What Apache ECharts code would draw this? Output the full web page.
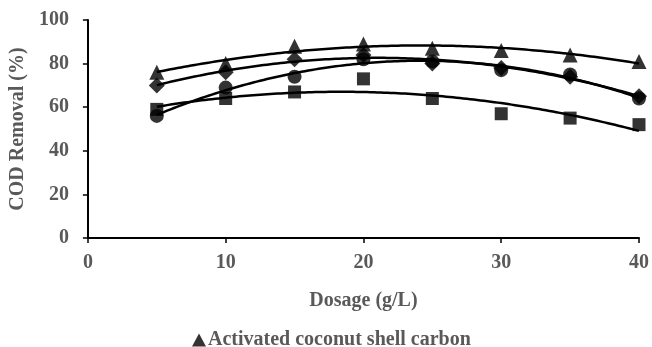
<!DOCTYPE html>
<html>
<head>
<meta charset="utf-8">
<script src="https://cdn.jsdelivr.net/npm/echarts@6/dist/echarts.min.js"></script>
<style>
  html, body { margin: 0; padding: 0; background: #fff; }
  #chart { width: 652px; height: 347px; }
</style>
</head>
<body>
<div id="chart"></div>
<script>
// dosage (g/L)
var dosage = [5, 10, 15, 20, 25, 30, 35, 40];
// COD removal (%)
var triangleVals = [76, 80, 88, 89, 87, 86, 84, 81];
var diamondVals  = [70, 76, 82, 84, 80, 78, 74, 65];
var circleVals   = [56, 69, 74, 82, 81, 77, 75, 64];
var squareVals   = [59, 64, 67, 73, 64, 57, 55, 52];
var legendName = 'Activated coconut shell carbon';

var serif = '"Liberation Serif", "Times New Roman", serif';
var grey = '#595959';

// 2nd order polynomial trendline (least squares), like the spreadsheet one
function polyFit(xs, ys) {
  var n = xs.length, s = [0, 0, 0, 0, 0], t = [0, 0, 0];
  for (var i = 0; i < n; i++) {
    var p = 1;
    for (var k = 0; k < 5; k++) { s[k] += p; if (k < 3) t[k] += p * ys[i]; p *= xs[i]; }
  }
  var m = [[s[0], s[1], s[2], t[0]], [s[1], s[2], s[3], t[1]], [s[2], s[3], s[4], t[2]]];
  for (var c = 0; c < 3; c++) {
    for (var r = c + 1; r < 3; r++) {
      var f = m[r][c] / m[c][c];
      for (var j = c; j < 4; j++) m[r][j] -= f * m[c][j];
    }
  }
  var a = [0, 0, 0];
  for (var r2 = 2; r2 >= 0; r2--) {
    var v = m[r2][3];
    for (var j2 = r2 + 1; j2 < 3; j2++) v -= m[r2][j2] * a[j2];
    a[r2] = v / m[r2][r2];
  }
  var out = [];
  for (var x = xs[0]; x <= xs[n - 1] + 1e-9; x += 0.5) {
    out.push([x, a[0] + a[1] * x + a[2] * x * x]);
  }
  return out;
}

function pts(vals) {
  return dosage.map(function (d, i) { return [d, vals[i]]; });
}

function scatter(name, vals, symbol, size) {
  return {
    name: name, type: 'scatter', data: pts(vals),
    symbol: symbol, symbolSize: size,
    itemStyle: { color: '#000' }, z: 3
  };
}
function trend(vals) {
  return {
    type: 'line', data: polyFit(dosage, vals), showSymbol: false, smooth: true,
    lineStyle: { color: '#000', width: 2.5 }, silent: true, z: 2
  };
}

var chart = echarts.init(document.getElementById('chart'));
chart.setOption({
  animation: false,
  grid: { left: 87, right: 13, top: 20, bottom: 109 },
  legend: {
    data: [{ name: legendName, icon: 'triangle' }],
    top: 325, left: 187,
    itemWidth: 14, itemHeight: 13, itemGap: 2,
    textStyle: { fontFamily: serif, fontWeight: 'bold', fontSize: 20, color: grey, padding: [0, 0, 0, -3] }
  },
  xAxis: {
    type: 'value', min: 0, max: 40, interval: 10,
    name: 'Dosage (g/L)', nameLocation: 'middle', nameGap: 53,
    nameTextStyle: { fontFamily: serif, fontWeight: 'bold', fontSize: 20, color: grey },
    axisLine: { lineStyle: { color: '#000', width: 2 } },
    axisTick: { show: true, length: 5, lineStyle: { color: '#000', width: 1.5 } },
    axisLabel: { fontFamily: serif, fontWeight: 'bold', fontSize: 20, color: grey, margin: 15 },
    splitLine: { show: false }
  },
  yAxis: {
    type: 'value', min: 0, max: 100, interval: 20,
    name: 'COD Removal (%)', nameLocation: 'middle', nameGap: 50,
    nameTextStyle: { fontFamily: serif, fontWeight: 'bold', fontSize: 20, color: grey },
    axisLine: { show: true, lineStyle: { color: '#000', width: 2 } },
    axisTick: { show: true, length: 5, lineStyle: { color: '#000', width: 1.5 } },
    axisLabel: { fontFamily: serif, fontWeight: 'bold', fontSize: 20, color: grey, margin: 19 },
    splitLine: { show: false }
  },
  series: [
    trend(triangleVals), trend(diamondVals), trend(circleVals), trend(squareVals),
    scatter(legendName, triangleVals, 'triangle', 15),
    scatter('diamond', diamondVals, 'diamond', 16),
    scatter('circle', circleVals, 'circle', 14),
    scatter('square', squareVals, 'rect', 13)
  ]
});
</script>
</body>
</html>
